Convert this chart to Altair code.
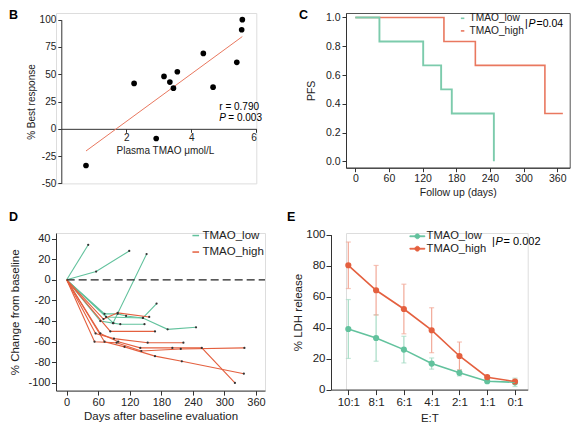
import altair as alt
import pandas as pd

FONT = "Liberation Sans"
AX = "#333333"
TXT = "#222222"
GREEN = "#62c29d"
RED = "#e4603f"
GREEN_KM = "#7ccbac"
RED_KM = "#e9785f"
GREEN_ERR = "#a6dcc5"
RED_ERR = "#f2a998"

groups = ["TMAO_low", "TMAO_high"]
panel_letters = ["B", "C", "D", "E"]

# ---------------- Panel B : scatter ----------------
b_tmao = [0.76, 2.24, 2.92, 3.16, 3.34, 3.45, 3.57, 4.37, 4.67, 5.40, 5.55, 5.57]
b_resp = [-33.6, 41.6, -8.9, 48.0, 42.8, 37.3, 52.3, 69.1, 38.2, 60.9, 90.8, 100.0]
b_r_text = ["r = 0.790"]
b_p_italic = ["P"]
b_p_text = ["= 0.003"]

# ---------------- Panel C : Kaplan-Meier ----------------
c_low_day = [0, 43, 121, 153, 172, 247]
c_low_pfs = [1.0, 0.833, 0.667, 0.5, 0.333, 0.0]
c_high_day = [0, 158, 214, 338, 370]
c_high_pfs = [1.0, 0.833, 0.667, 0.333, 0.333]
c_bar = ["|"]
c_p_text = ["=0.04"]

# ---------------- Panel D : spider plot ----------------
d_patient = (["L1"] * 2 + ["L2"] * 3 + ["L3"] * 4 + ["L4"] * 6 + ["L5"] * 4 + ["L6"] * 5
             + ["H1"] * 4 + ["H2"] * 3 + ["H3"] * 5 + ["H4"] * 6 + ["H5"] * 7 + ["H6"] * 6)
d_group = ["TMAO_low"] * 24 + ["TMAO_high"] * 31
d_day = [0, 41,
         0, 56, 119,
         0, 64, 88, 152,
         0, 72, 97, 113, 145, 171,
         0, 89, 102, 148,
         0, 75, 145, 192, 246,
         0, 70, 97, 157,
         0, 83, 168,
         0, 55, 90, 154, 222,
         0, 53, 95, 142, 217, 338,
         0, 64, 98, 140, 201, 257, 320,
         0, 72, 110, 168, 219, 337]
d_change = [0, 34,
            0, 8, 28,
            0, -40, -42, 25,
            0, -33, -33, -35, -37, -23,
            0, -42, -43, -43,
            0, -36, -37, -48, -46,
            0, -38, -32, -36,
            0, -50, -50,
            0, -52, -57, -61, -61,
            0, -60, -61, -69, -67, -66,
            0, -52, -60, -66, -66, -66, -100,
            0, -60, -65, -74, -79, -91]
d_zero = [0]

# ---------------- Panel E : LDH release ----------------
e_ratio = ["10:1", "8:1", "6:1", "4:1", "2:1", "1:1", "0:1"]
e_low_mean = [39.1, 33.3, 25.8, 16.8, 10.8, 5.4, 4.7]
e_low_sd = [19.0, 15.0, 8.6, 3.6, 2.0, 1.0, 2.7]
e_high_mean = [80.2, 64.1, 52.0, 38.3, 21.7, 8.0, 5.2]
e_high_sd = [15.0, 16.0, 16.0, 14.5, 9.0, 1.0, 1.5]
e_bar = ["|"]
e_p_text = ["= 0.002"]


def axis(**kw):
    base = dict(grid=False, domainColor=AX, tickColor=AX, labelColor=TXT, titleColor=TXT,
                labelFont=FONT, titleFont=FONT, titleFontWeight="normal",
                domainWidth=1, tickWidth=1, labelOverlap=False, tickCount=50)
    base.update(kw)
    return alt.Axis(**base)


def text_layer(values, x, y, size, align="left", baseline="middle", weight="normal", style="normal"):
    return alt.Chart(pd.DataFrame({"t": values})).mark_text(
        align=align, baseline=baseline, fontSize=size, fontWeight=weight, fontStyle=style,
        font=FONT, color="black"
    ).encode(text="t:N", x=alt.value(x), y=alt.value(y))


# ---------------- B ----------------
dfB = pd.DataFrame({"tmao": b_tmao, "resp": b_resp})
xB = alt.X("tmao:Q", scale=alt.Scale(domain=[0, 6], range=[5.3, 200.3], nice=False, zero=False),
           axis=axis(values=[2, 4, 6], offset=-54.57, tickSize=3.5, labelPadding=0.5,
                     labelFontSize=10, titleFontSize=10, titlePadding=3, titleX=109,
                     labelExpr="toString(datum.value)", title="Plasma TMAO μmol/L"))
yB = alt.Y("resp:Q", scale=alt.Scale(domain=[-50, 100], range=[170.4, 6.7], nice=False, zero=False),
           axis=axis(values=[-50, -25, 0, 25, 50, 75, 100], offset=-5.3, tickSize=3.5, labelPadding=2,
                     labelFontSize=10, titleFontSize=10, titlePadding=3,
                     labelExpr="toString(datum.value)", title="% Best response"))
ptsB = alt.Chart(dfB).mark_circle(size=32, color="black", opacity=1).encode(x=xB, y=yB)
regB = alt.Chart(dfB).transform_regression("tmao", "resp").mark_line(
    color=RED_KM, strokeWidth=1).encode(x=xB, y=yB)
chartB = alt.layer(
    regB, ptsB,
    text_layer(b_r_text, 163.3, 94.4, 10),
    text_layer(b_p_italic, 163.3, 105, 10, style="italic"),
    text_layer(b_p_text, 172.3, 105, 10),
    text_layer([panel_letters[0]], -47, -4.3, 12.5, baseline="top", weight="bold"),
).properties(width=200.3, height=170.4)

# ---------------- C ----------------
dfC_low = pd.DataFrame({"day": c_low_day, "pfs": c_low_pfs, "grp": "TMAO_low"})
dfC_high = pd.DataFrame({"day": c_high_day, "pfs": c_high_pfs, "grp": "TMAO_high"})
xC = alt.X("day:Q", scale=alt.Scale(domain=[-16.6, 382.2], nice=False, zero=False),
           axis=axis(values=[0, 60, 120, 180, 240, 300, 360], tickSize=4, labelPadding=2,
                     labelFontSize=10.5, titleFontSize=10.5, titlePadding=3,
                     title="Follow up (days)"))
yC = alt.Y("pfs:Q", scale=alt.Scale(domain=[-0.044, 1.031], nice=False, zero=False),
           axis=axis(values=[0, 0.2, 0.4, 0.6, 0.8, 1.0], format=".1f", tickSize=4, labelPadding=2,
                     labelFontSize=10.5, titleFontSize=10.5, titlePadding=9, title="PFS"))
colC = alt.Color("grp:N", scale=alt.Scale(domain=groups, range=[GREEN_KM, RED_KM]),
                 legend=alt.Legend(title=None, orient="none", legendX=111.5, legendY=0.2,
                                   symbolType="stroke", symbolSize=12, symbolStrokeWidth=1.6,
                                   labelFontSize=10.2, labelFont=FONT, labelColor=TXT,
                                   rowPadding=1.6, labelOffset=1.8, padding=0))
kmHigh = alt.Chart(dfC_high).mark_line(interpolate="step-after", strokeWidth=1.6).encode(
    x=xC, y=yC, color=colC)
kmLow = alt.Chart(dfC_low).mark_line(interpolate="step-after", strokeWidth=1.9).encode(
    x=xC, y=yC, color=colC)
chartC = alt.layer(
    kmHigh, kmLow,
    text_layer(c_bar, 179, 11, 10.5),
    text_layer(b_p_italic, 182.5, 11, 10.5, style="italic"),
    text_layer(c_p_text, 190.5, 11, 10.5),
    text_layer([panel_letters[1]], -47, -4.3, 12.5, baseline="top", weight="bold"),
).properties(width=223.7, height=154.7, view=alt.ViewBackground(stroke="#555555", strokeWidth=1))

# ---------------- D ----------------
dfD = pd.DataFrame({"pid": d_patient, "grp": d_group, "day": d_day, "chg": d_change})
scDy = alt.Scale(domain=[-107.4, 45.4], nice=False, zero=False)
axDy = axis(values=[-100, -80, -60, -40, -20, 0, 20, 40], tickSize=4.5, labelPadding=1.5,
            labelFontSize=11, titleFontSize=11.5, titlePadding=7,
            labelExpr="toString(datum.value)", title="% Change from baseline")
xD = alt.X("day:Q", scale=alt.Scale(domain=[-20.3, 377.2], nice=False, zero=False),
           axis=axis(values=[0, 60, 120, 180, 240, 300, 360], tickSize=4.5, labelPadding=1.5,
                     labelFontSize=11, titleFontSize=11.5, titlePadding=3,
                     title="Days after baseline evaluation"))
yD = alt.Y("chg:Q", scale=scDy, axis=axDy)
colD = alt.Color("grp:N", scale=alt.Scale(domain=groups, range=[GREEN, RED]),
                 legend=alt.Legend(title=None, orient="none", legendX=134, legendY=-3.2,
                                   symbolType="stroke", symbolSize=44, symbolStrokeWidth=1.5,
                                   labelFontSize=11.5, labelFont=FONT, labelColor=TXT,
                                   rowPadding=3.5, labelOffset=1, padding=0))
linesD = alt.Chart(dfD).mark_line(strokeWidth=1.1).encode(
    x=xD, y=yD, detail="pid:N", color=colD, order="day:Q")
zeroD = alt.Chart(pd.DataFrame({"v": d_zero})).mark_rule(
    color="#222222", strokeDash=[8, 4], strokeWidth=1.3).encode(
    y=alt.Y("v:Q", scale=scDy, axis=axDy), x=alt.datum(0), x2=alt.datum(377.2))
dotsD = alt.Chart(dfD).transform_filter("datum.day > 0").mark_circle(
    size=5, color="#333333", opacity=1).encode(x=xD, y=yD)
chartD = alt.layer(
    linesD, zeroD, dotsD,
    text_layer([panel_letters[2]], -47, -21.7, 12.5, baseline="top", weight="bold"),
).properties(width=209, height=157.6)

# ---------------- E ----------------
dfE = pd.DataFrame({
    "ratio": e_ratio * 2,
    "grp": ["TMAO_low"] * 7 + ["TMAO_high"] * 7,
    "mean": e_low_mean + e_high_mean,
    "sd": e_low_sd + e_high_sd,
})
legE = alt.Legend(title=None, orient="none", legendX=65.75, legendY=-2.3,
                  symbolType="M-2,-0.12H2V0.12H-2Z M0.65,0A0.65,0.65 0 1 1 -0.65,0A0.65,0.65 0 1 1 0.65,0Z",
                  symbolSize=56, symbolStrokeWidth=0.8, symbolOpacity=1,
                  labelFontSize=11.2, labelFont=FONT, labelColor=TXT,
                  rowPadding=0.4, labelOffset=3.6, padding=0)
colE = alt.Color("grp:N", scale=alt.Scale(domain=groups, range=[GREEN, RED]), legend=legE)
xE = alt.X("ratio:N", sort=e_ratio,
           scale=alt.Scale(type="point", range=[-15, 181.7], padding=0.54, align=0.577),
           axis=axis(labelAngle=0, tickSize=5, labelPadding=2, labelFontSize=11.5,
                     titleFontSize=11.5, titlePadding=4, title="E:T"))
yE = alt.Y("mean:Q", scale=alt.Scale(domain=[0, 100], range=[156.6, 1.6], nice=False, zero=False),
           axis=axis(values=[0, 20, 40, 60, 80, 100], offset=15, tickSize=5, labelPadding=1,
                     labelFontSize=11.5, titleFontSize=11.5, titlePadding=2,
                     title="% LDH release"))
errLow = alt.Chart(dfE).transform_filter(alt.datum.grp == "TMAO_low").mark_errorbar(
    ticks=alt.MarkConfig(size=5), thickness=1.2, color=GREEN_ERR).encode(x=xE, y=yE, yError="sd:Q")
errHigh = alt.Chart(dfE).transform_filter(alt.datum.grp == "TMAO_high").mark_errorbar(
    ticks=alt.MarkConfig(size=5), thickness=1.2, color=RED_ERR).encode(x=xE, y=yE, yError="sd:Q")
ptE = alt.Chart(dfE).mark_point(filled=True, size=38, opacity=1).encode(x=xE, y=yE, color=colE)
lineE = alt.Chart(dfE).mark_line(strokeWidth=1.6).encode(x=xE, y=yE, color=colE)
chartE = alt.layer(
    errLow, errHigh, ptE, lineE,
    text_layer(e_bar, 146, 9, 11),
    text_layer(b_p_italic, 149.5, 9, 11, style="italic"),
    text_layer(e_p_text, 157.5, 9, 11),
    text_layer([panel_letters[3]], -59, -21.7, 12.5, baseline="top", weight="bold"),
).properties(width=181.7, height=156.6)

chart = alt.concat(
    chartB, chartC, chartD, chartE,
    columns=2, spacing={"row": 49, "column": 81}, bounds="flush", align="each",
).resolve_scale(
    color="independent"
).resolve_legend(
    color="independent"
).properties(padding=0).configure_view(stroke=None).configure(font=FONT)

chart.save("out.html", embed_options={"renderer": "svg", "actions": False})
